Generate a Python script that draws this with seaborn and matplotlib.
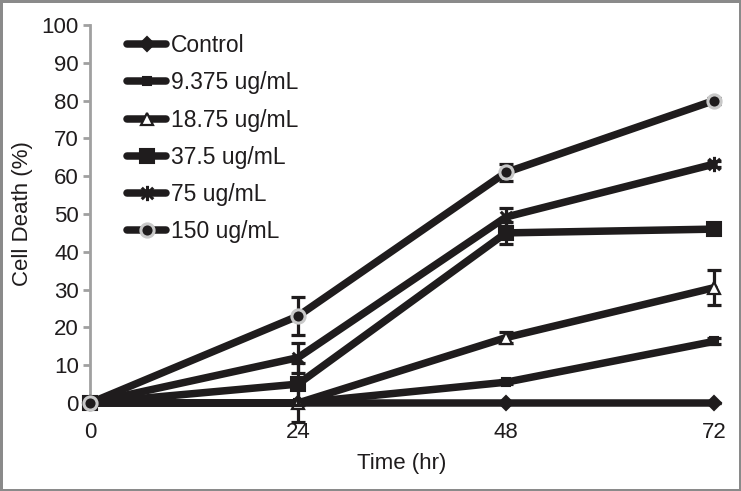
import matplotlib
matplotlib.use("Agg")
import matplotlib.pyplot as plt
from matplotlib.path import Path
import seaborn as sns
import pandas as pd

time_hr = [0, 24, 48, 72]
series_names = ["Control", "9.375 ug/mL", "18.75 ug/mL", "37.5 ug/mL", "75 ug/mL", "150 ug/mL"]
control = [0, 0, 0, 0]
c9375 = [0, 0, 5.5, 16.3]
c1875 = [0, 0, 17.3, 30.5]
c375 = [0, 5, 45, 46]
c75 = [0, 12, 49.2, 63.2]
c150 = [0, 23, 61, 80]
err_control = [0, 0, 0, 0]
err_9375 = [0, 5, 0.5, 0.8]
err_1875 = [0, 0, 1.5, 4.6]
err_375 = [0, 5.5, 3, 1]
err_75 = [0, 4, 2.5, 0.8]
err_150 = [0, 5, 2.3, 0.8]

values = [control, c9375, c1875, c375, c75, c150]
errors = [err_control, err_9375, err_1875, err_375, err_75, err_150]

rows = []
for name, vals in zip(series_names, values):
    for t, v in zip(time_hr, vals):
        rows.append({"Time": t, "Series": name, "Value": v})
df = pd.DataFrame(rows)

sns.set_style("white")
plt.rcParams["font.family"] = ["Liberation Sans", "DejaVu Sans"]

dark = "#1f1c1d"
gray = "#a0a0a0"
fs = 16

star = Path([(0, -1), (0, 1), (-0.75, -0.75), (0.75, 0.75), (-0.75, 0.75), (0.75, -0.75)],
            [Path.MOVETO, Path.LINETO] * 3)

fig = plt.figure(figsize=(7.41, 4.91), dpi=100, edgecolor="#8a8a8a", linewidth=2.5)
ax = fig.add_axes([90 / 741, 1 - 403 / 491, (714 - 90) / 741, (403 - 25) / 491])

markers = ["D", "s", "^", "s", star, "o"]
msizes = [7, 6, 8, 10, 11, 9.5]
faces = [dark, dark, "white", dark, "none", dark]
edges = [dark, dark, dark, dark, dark, "#c8c8c8"]
mews = [1.5, 1.5, 1.6, 1.5, 2.2, 2.2]

for i, name in enumerate(series_names):
    sub = df[df["Series"] == name]
    ax.errorbar(time_hr, values[i], yerr=errors[i], fmt="none", ecolor=dark,
                elinewidth=2.3, capsize=5, capthick=2.3, zorder=2 + i, clip_on=False)
    sns.lineplot(data=sub, x="Time", y="Value", ax=ax, color=dark, linewidth=5.4,
                 marker=markers[i], markersize=msizes[i], markerfacecolor=faces[i],
                 markeredgecolor=edges[i], markeredgewidth=mews[i], label=name,
                 zorder=3 + i, clip_on=False, legend=True)

ax.set_xlim(0, 72)
ax.set_ylim(0, 100)
ax.set_xticks(time_hr)
ax.set_yticks(range(0, 101, 10))
ax.tick_params(axis="x", length=0, pad=14, labelsize=fs, labelcolor=dark)
ax.tick_params(axis="y", length=5, width=2, color=gray, pad=3, labelsize=fs,
               labelcolor=dark, direction="out", left=True)
for s in ["top", "right"]:
    ax.spines[s].set_visible(False)
ax.spines["left"].set_color(gray)
ax.spines["left"].set_linewidth(2)
ax.spines["bottom"].set_color(gray)
ax.spines["bottom"].set_linewidth(2)

ax.set_xlabel("Time (hr)", fontsize=fs, color=dark, labelpad=7)
ax.set_ylabel("Cell Death (%)", fontsize=fs, color=dark, labelpad=6)

leg = ax.legend(loc="upper left", bbox_to_anchor=(0.045, 1.0), frameon=False,
                fontsize=16.5, handlelength=1.7, handletextpad=0.22,
                labelspacing=0.62, borderaxespad=0)
for t in leg.get_texts():
    t.set_color(dark)

fig.savefig("out.png", dpi=100, edgecolor=fig.get_edgecolor())
